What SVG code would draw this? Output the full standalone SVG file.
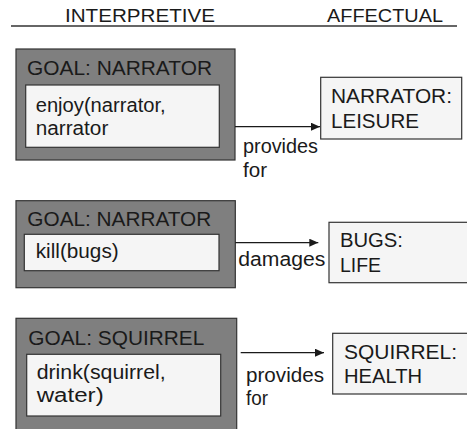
<svg xmlns="http://www.w3.org/2000/svg" width="467" height="429" viewBox="0 0 467 429">
  <style>
    text { font-family: "Liberation Sans", Arial, sans-serif; fill: #1a1a1a; }
    .head { font-size: 18px; }
    .t { font-size: 19.5px; }
    .goal { fill: #7f7f7f; stroke: #333333; stroke-width: 1.2; }
    .act { fill: #f5f5f5; stroke: #333333; stroke-width: 1.2; }
    .aff { fill: #f5f5f5; stroke: #333333; stroke-width: 1.2; }
    .link { stroke: #1a1a1a; stroke-width: 1.2; fill: none; marker-end: url(#arrow); }
  </style>
  <defs>
    <marker id="arrow" markerUnits="userSpaceOnUse" markerWidth="9" markerHeight="8" refX="9" refY="4" orient="auto">
      <path d="M0,0 L9,4 L0,8 Z" fill="#1a1a1a"/>
    </marker>
  </defs>
  <rect width="467" height="429" fill="#ffffff"/>

  <!-- column headings -->
  <g id="headings">
    <text class="head" x="65" y="22" textLength="150" lengthAdjust="spacingAndGlyphs">INTERPRETIVE</text>
    <text class="head" x="327" y="22" textLength="116" lengthAdjust="spacingAndGlyphs">AFFECTUAL</text>
    <line x1="11" y1="26" x2="457" y2="26" stroke="#333333" stroke-width="1.3"/>
  </g>

  <!-- interpretive goal nodes -->
  <g id="goal-narrator-enjoy">
    <rect class="goal" x="16" y="49" width="219" height="111"/>
    <text class="t" x="27" y="75" textLength="185" lengthAdjust="spacingAndGlyphs">GOAL: NARRATOR</text>
    <rect class="act" x="25.7" y="85" width="193.6" height="62.3"/>
    <text class="t" x="35.7" y="111.5" textLength="130" lengthAdjust="spacingAndGlyphs">enjoy(narrator,</text>
    <text class="t" x="35.7" y="134.5" textLength="72.6" lengthAdjust="spacingAndGlyphs">narrator</text>
  </g>

  <g id="goal-narrator-kill">
    <rect class="goal" x="16" y="200.7" width="219.3" height="87"/>
    <text class="t" x="27.3" y="225.5" textLength="184" lengthAdjust="spacingAndGlyphs">GOAL: NARRATOR</text>
    <rect class="act" x="24.3" y="234.3" width="194.7" height="36.4"/>
    <text class="t" x="35.7" y="258" textLength="83" lengthAdjust="spacingAndGlyphs">kill(bugs)</text>
  </g>

  <g id="goal-squirrel-drink">
    <rect class="goal" x="16" y="318.3" width="220.7" height="120"/>
    <text class="t" x="28.3" y="345" textLength="176" lengthAdjust="spacingAndGlyphs">GOAL: SQUIRREL</text>
    <rect class="act" x="26.7" y="354.3" width="194" height="61.7"/>
    <text class="t" x="36.7" y="378.5" textLength="129" lengthAdjust="spacingAndGlyphs">drink(squirrel,</text>
    <text class="t" x="36.7" y="401.7" textLength="67" lengthAdjust="spacingAndGlyphs">water)</text>
  </g>

  <!-- affectual state nodes -->
  <g id="narrator-leisure">
    <rect class="aff" x="320.7" y="77.3" width="141" height="61.7"/>
    <text class="t" x="331" y="103.3" textLength="121" lengthAdjust="spacingAndGlyphs">NARRATOR:</text>
    <text class="t" x="331" y="128.3" textLength="88" lengthAdjust="spacingAndGlyphs">LEISURE</text>
  </g>

  <g id="bugs-life">
    <rect class="aff" x="329" y="222.3" width="145" height="60.4"/>
    <text class="t" x="340" y="246.7" textLength="63" lengthAdjust="spacingAndGlyphs">BUGS:</text>
    <text class="t" x="340" y="271.7" textLength="41" lengthAdjust="spacingAndGlyphs">LIFE</text>
  </g>

  <g id="squirrel-health">
    <rect class="aff" x="332.7" y="333.3" width="145" height="60.7"/>
    <text class="t" x="344" y="359" textLength="113" lengthAdjust="spacingAndGlyphs">SQUIRREL:</text>
    <text class="t" x="344" y="383.3" textLength="78" lengthAdjust="spacingAndGlyphs">HEALTH</text>
  </g>

  <!-- connectors with their labels -->
  <g id="connectors">
    <line class="link" x1="235" y1="126.7" x2="320" y2="126.7"/>
    <text class="t" x="243" y="153.3" textLength="75" lengthAdjust="spacingAndGlyphs">provides</text>
    <text class="t" x="243" y="176.7" textLength="24" lengthAdjust="spacingAndGlyphs">for</text>

    <line class="link" x1="235.3" y1="242.7" x2="318.3" y2="242.7"/>
    <text class="t" x="238.3" y="265.5" textLength="87" lengthAdjust="spacingAndGlyphs">damages</text>

    <line class="link" x1="240.7" y1="352.7" x2="324" y2="352.7"/>
    <text class="t" x="246" y="382" textLength="78" lengthAdjust="spacingAndGlyphs">provides</text>
    <text class="t" x="246" y="404.5" textLength="22" lengthAdjust="spacingAndGlyphs">for</text>
  </g>
</svg>
